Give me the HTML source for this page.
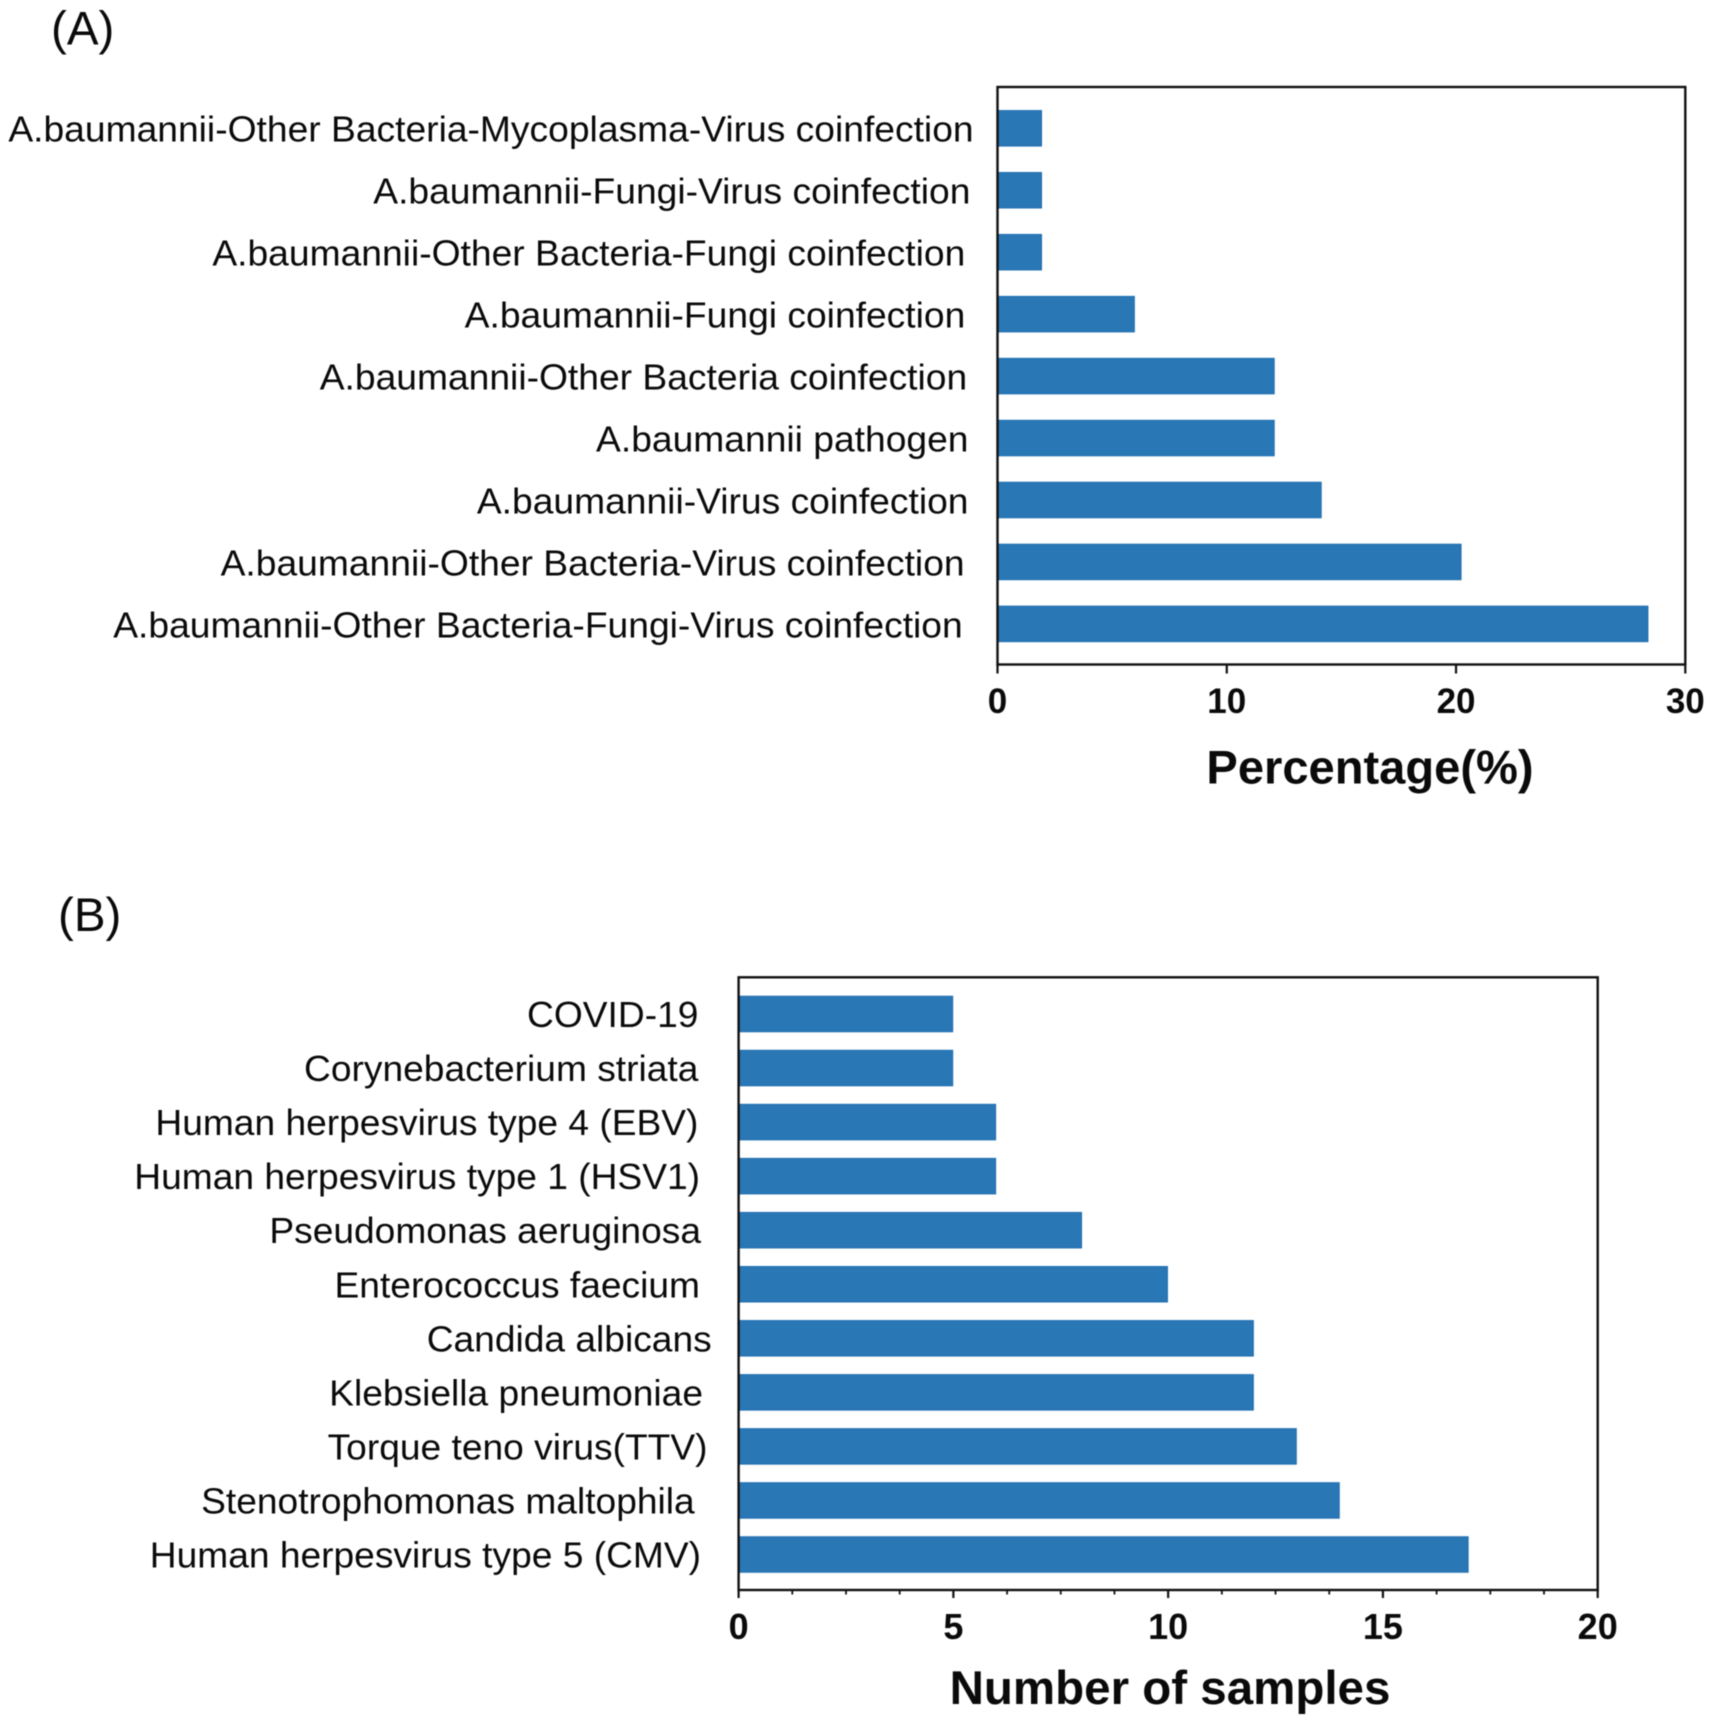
<!DOCTYPE html>
<html>
<head>
<meta charset="utf-8">
<title>A. baumannii coinfection charts</title>
<style>
  html,body{margin:0;padding:0;background:#fff;}
  svg{display:block;filter:blur(0.45px);}
  text{font-family:"Liberation Sans",Arial,sans-serif;fill:#0a0a0a;}
</style>
</head>
<body>
<svg id="figure" xmlns="http://www.w3.org/2000/svg" width="1713" height="1724" viewBox="0 0 1713 1724">
  <rect x="0" y="0" width="1713" height="1724" fill="#ffffff"/>
  <text x="51" y="44.5" font-size="47.5">(A)</text>
  <text x="58" y="931" font-size="47.5">(B)</text>
  <g id="chartA"></g>
  <g id="chartB"></g>
</svg>
<script>
const categoriesA = [
  "A.baumannii-Other Bacteria-Mycoplasma-Virus coinfection",
  "A.baumannii-Fungi-Virus coinfection",
  "A.baumannii-Other Bacteria-Fungi coinfection",
  "A.baumannii-Fungi coinfection",
  "A.baumannii-Other Bacteria coinfection",
  "A.baumannii pathogen",
  "A.baumannii-Virus coinfection",
  "A.baumannii-Other Bacteria-Virus coinfection",
  "A.baumannii-Other Bacteria-Fungi-Virus coinfection"
];
const valuesA = [1.95, 1.95, 1.95, 6, 12.1, 12.1, 14.15, 20.25, 28.4];
const ticksA = [0, 10, 20, 30];
const minorTicksA = [];

const categoriesB = [
  "COVID-19",
  "Corynebacterium striata",
  "Human herpesvirus type 4 (EBV)",
  "Human herpesvirus type 1 (HSV1)",
  "Pseudomonas aeruginosa",
  "Enterococcus faecium",
  "Candida albicans",
  "Klebsiella pneumoniae",
  "Torque teno virus(TTV)",
  "Stenotrophomonas maltophila",
  "Human herpesvirus type 5 (CMV)"
];
const valuesB = [5, 5, 6, 6, 8, 10, 12, 12, 13, 14, 17];
const ticksB = [0, 5, 10, 15, 20];
const minorTicksB = [1.25, 2.5, 3.75, 6.25, 7.5, 8.75, 11.25, 12.5, 13.75, 16.25, 17.5, 18.75];

/* hand-placed label alignment in the original figure (layout only) */
const labelNudgeA = [0, -3.2, -8.3, -8.3, -6.4, -5.1, -5.1, -9, -10.9];
const labelNudgeB = [-2.6, -2.6, -2.6, -1, 0, -1, 10.7, 2, 6.5, -6.3, 0];

const NS = "http://www.w3.org/2000/svg";
function mk(parent, tag, attrs, txt) {
  const el = document.createElementNS(NS, tag);
  for (const k in attrs) el.setAttribute(k, attrs[k]);
  if (txt !== undefined) el.textContent = txt;
  parent.appendChild(el);
  return el;
}

function drawChart(root, cfg, categories, values, ticks, minorTicks, nudges) {
  const xAxis = v => cfg.left + (v - cfg.xMin) / (cfg.xMax - cfg.xMin) * (cfg.right - cfg.left);
  const yAxis = i => cfg.firstCenter + i * cfg.step;

  categories.forEach((name, i) => {
    const bar = mk(root, "rect", {
      x: xAxis(0), y: yAxis(i) - cfg.barH / 2,
      width: xAxis(values[i]) - xAxis(0) - 0.7, height: cfg.barH,
      fill: "#2a77b5", stroke: "#1f6fb2", "stroke-width": 1
    });
    
    

    const label = mk(root, "text", {
      transform: "translate(" + (cfg.labelRight + nudges[i]) + "," + (yAxis(i) + cfg.labelDy) + ") scale(" + cfg.labelScale + ",1)",
      "text-anchor": "end", "font-size": cfg.labelSize
    }, name);
    
    
  });

  const frame = mk(root, "rect", {
    x: cfg.left, y: cfg.top, width: cfg.right - cfg.left, height: cfg.bottom - cfg.top,
    fill: "none", stroke: "#111", "stroke-width": 2.4
  });
  
  

  ticks.forEach(t => {
    const mark = mk(root, "line", {
      x1: xAxis(t), x2: xAxis(t), y1: cfg.bottom, y2: cfg.bottom + cfg.tickLen,
      stroke: "#111", "stroke-width": 2.2
    });
    
    

    const lab = mk(root, "text", {
      x: xAxis(t), y: cfg.tickBase, "text-anchor": "middle",
      "font-size": cfg.tickSize, "font-weight": "bold"
    }, String(t));
    
    
  });

  minorTicks.forEach(t => {
    const mark = mk(root, "line", {
      x1: xAxis(t), x2: xAxis(t), y1: cfg.bottom, y2: cfg.bottom + cfg.minorLen,
      stroke: "#111", "stroke-width": 1.8
    });
    
    
  });

  const title = mk(root, "text", {
    x: cfg.titleX, y: cfg.titleBase, "text-anchor": "middle",
    "font-size": cfg.titleSize, "font-weight": "bold"
  }, cfg.title);
  
  
}

drawChart(document.getElementById("chartA"), {
  id: "chart-a", left: 997.5, right: 1685.3, top: 87, bottom: 664.5,
  xMin: 0, xMax: 30, firstCenter: 128.3, step: 61.95, barH: 35.5,
  labelRight: 973.6, labelDy: 13.4, labelSize: 36, labelScale: 1.034,
  tickLen: 9, minorLen: 0, tickBase: 713, tickSize: 35,
  title: "Percentage(%)", titleX: 1370, titleBase: 783.7, titleSize: 47.1
}, categoriesA, valuesA, ticksA, minorTicksA, labelNudgeA);

drawChart(document.getElementById("chartB"), {
  id: "chart-b", left: 738.6, right: 1597.7, top: 977.3, bottom: 1590,
  xMin: 0, xMax: 20, firstCenter: 1014, step: 54.05, barH: 35.5,
  labelRight: 701, labelDy: 13, labelSize: 36, labelScale: 1.032,
  tickLen: 8, minorLen: 4.5, tickBase: 1639, tickSize: 36,
  title: "Number of samples", titleX: 1170, titleBase: 1704, titleSize: 47.5
}, categoriesB, valuesB, ticksB, minorTicksB, labelNudgeB);
</script>
</body>
</html>
